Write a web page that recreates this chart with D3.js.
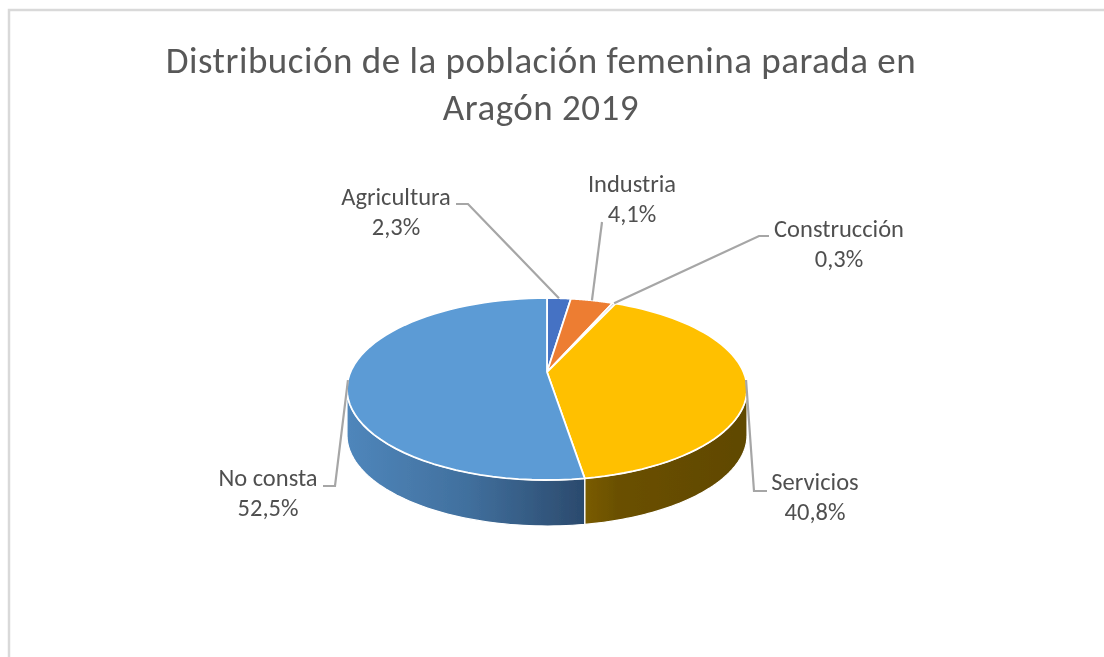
<!DOCTYPE html>
<html><head><meta charset="utf-8">
<script src="https://cdn.jsdelivr.net/npm/d3@7"></script>
<style>html,body{margin:0;padding:0;background:#fff}svg{display:block}</style>
</head><body><div id="c"></div>
<script>
const categories = ["Agricultura","Industria","Construcción","Servicios","No consta"];
const values = [2.3,4.1,0.3,40.8,52.5];
const valueLabels = ["2,3%","4,1%","0,3%","40,8%","52,5%"];
const colors = ["#4472c4","#ed7d31","#a5a5a5","#ffc000","#5b9bd5"];
const titleLines = ["Distribución de la población femenina parada en","Aragón 2019"];

const W=1104,H=657;
const svg=d3.select("#c").append("svg").attr("width",W).attr("height",H);
const defs=svg.append("defs");
defs.append("filter").attr("id","soft").attr("x",0).attr("y",0).attr("width",1).attr("height",1)
  .attr("filterUnits","objectBoundingBox")
  .append("feGaussianBlur").attr("stdDeviation",0.55);
const font="Carlito, Calibri, 'Open Sans', sans-serif";
const root=svg.append("g").attr("filter","url(#soft)");
root.append("rect").attr("width",W).attr("height",H).attr("fill","#fff");

// chart frame
root.append("path").attr("d",`M${W+5},10H9V${H+5}`).attr("fill","none").attr("stroke","#d9d9d9").attr("stroke-width",2.5);

titleLines.forEach((t,i)=>root.append("text").attr("x",541).attr("y",[73,120][i])
  .attr("text-anchor","middle").attr("font-family",font).attr("font-size",37).attr("letter-spacing",0.5).attr("fill","#595959").text(t));

// perspective projection of the tilted disc
const cx=547,cy=372,A=87.8,B=196.5,p=0.187,depth=46;
const proj=(a,dz=0)=>{const u=Math.sin(a),v=Math.cos(a),w=1+p*v;return [cx+B*u/w,cy-A*v/w+dz];};
const arcs=d3.pie().sort(null).value(d=>d)(values);
const line=d3.line();
const samples=(a0,a1,dz=0)=>d3.range(0,61).map(i=>proj(a0+(a1-a0)*i/60,dz));

const g=root.append("g");
// side walls: only the part of the rim facing the viewer
const visA0=Math.acos(-p), visA1=2*Math.PI-Math.acos(-p);
[3,4].forEach(idx=>{
  const d=arcs[idx];
  const a0=Math.max(d.startAngle,visA0),a1=Math.min(d.endAngle,visA1);
  const top=samples(a0,a1),bot=samples(a1,a0,depth);
  const id="side"+idx;
  const xs=top.concat(bot).map(q=>q[0]);
  const gr=defs.append("linearGradient").attr("id",id).attr("gradientUnits","userSpaceOnUse")
    .attr("x1",d3.min(xs)).attr("x2",d3.max(xs)).attr("y1",0).attr("y2",0);
  const st=idx===3?[["#7a5c00",0],["#6a5000",.2],["#604800",1]]:[["#4f86bb",0],["#41709e",.5],["#2b4a6d",1]];
  st.forEach(s=>gr.append("stop").attr("offset",s[1]).attr("stop-color",s[0]));
  g.append("path").attr("d",line(top.concat(bot))+"Z").attr("fill",`url(#${id})`).attr("stroke","#fff").attr("stroke-width",1.2).attr("stroke-linejoin","round");
});
// top faces
arcs.forEach((d,i)=>{
  const pts=[[cx,cy]].concat(samples(d.startAngle,d.endAngle));
  g.append("path").attr("d",line(pts)+"Z").attr("fill",colors[i]).attr("stroke","#fff").attr("stroke-width",1.8).attr("stroke-linejoin","round");
});

// labels and leader lines
const labelPos=[[396,205],[632,192],[839,237],[815,490],[268,486]];
const leaders=[
  [[456,204],[468,204],null],
  [[602,222],null],
  [[769,236],[759,236],null],
  [[767,491],[754,491],null],
  [[334,486],[323,486],null]
].map((l,i)=>i===4?[[323,486],[335,486],null]:l);
arcs.forEach((d,i)=>{
  const mid=(d.startAngle+d.endAngle)/2;
  const anchor=i===3?proj(Math.PI/2+.09):i===4?proj(3*Math.PI/2-.09):proj(mid);
  const pts=leaders[i].map(q=>q||anchor);
  root.append("path").attr("d",line(pts)).attr("fill","none").attr("stroke","#a6a6a6").attr("stroke-width",2.2);
  const t=root.append("text").attr("text-anchor","middle").attr("font-family",font).attr("font-size",24.5).attr("fill","#505050");
  t.append("tspan").attr("x",labelPos[i][0]).attr("y",labelPos[i][1]).text(categories[i]);
  t.append("tspan").attr("x",labelPos[i][0]).attr("y",labelPos[i][1]+30).text(valueLabels[i]);
});
</script></body></html>
